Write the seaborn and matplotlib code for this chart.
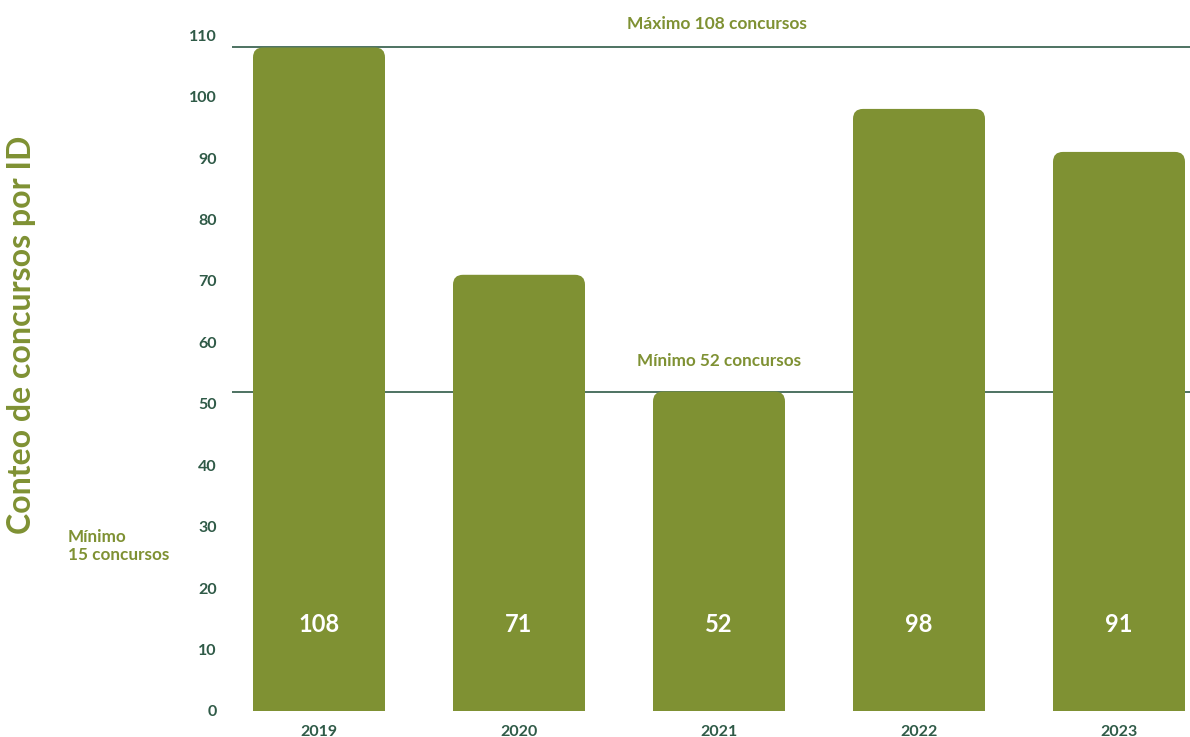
import pandas as pd
import seaborn as sns
import matplotlib.pyplot as plt
from matplotlib.patches import FancyBboxPatch

years = ["2019", "2020", "2021", "2022", "2023"]
counts = [108, 71, 52, 98, 91]
max_count = 108
min_count = 52
y_ticks = [0, 10, 20, 30, 40, 50, 60, 70, 80, 90, 100, 110]

olive = "#7f9133"
dark = "#2f5a47"

sns.set_style("white")
plt.rcParams["font.family"] = ["Lato", "DejaVu Sans"]

df = pd.DataFrame({"Año": years, "Conteo": counts})

fig = plt.figure(figsize=(11.9, 7.37), dpi=100)
ax = fig.add_axes([232 / 1190, 26 / 737, (1190 - 232) / 1190, (711 - 10) / 737])
sns.barplot(data=df, x="Año", y="Conteo", color=olive, width=0.66, saturation=1, ax=ax)

# redondear las esquinas superiores de las barras
y_px = 6.145
for p in list(ax.patches):
    x0, w, h = p.get_x(), p.get_width(), p.get_height()
    r = 0.05
    fb = FancyBboxPatch((x0, -3), w, h + 3, boxstyle=f"round,pad=0,rounding_size={r}",
                        mutation_aspect=(10 / y_px) / r, facecolor=olive, edgecolor="none",
                        clip_on=True, zorder=2)
    p.remove()
    ax.add_patch(fb)

for i, v in enumerate(counts):
    ax.text(i, 14, str(v), ha="center", va="center", color="white", fontsize=17, fontweight="bold", zorder=3)

ax.axhline(max_count, color=dark, lw=1.2, zorder=1)
ax.axhline(min_count, color=dark, lw=1.2, zorder=1)
ax.annotate(f"Máximo {max_count} concursos", xy=(1.99, max_count), xytext=(0, 17), textcoords="offset points",
            ha="center", va="center", color=olive, fontsize=12.5, fontweight="bold")
ax.annotate(f"Mínimo {min_count} concursos", xy=(2.0, min_count), xytext=(0, 22), textcoords="offset points",
            ha="center", va="center", color=olive, fontsize=12.3, fontweight="bold")
fig.text(68 / 1190, 1 - 546 / 737, "Mínimo\n15 concursos", ha="left", va="center", color=olive,
         fontsize=12.3, fontweight="bold", linespacing=1.15)

ax.set_xlim(-0.435, 4.355)
ax.set_ylim(0, 114.1)
ax.set_yticks(y_ticks)
ax.tick_params(axis="both", length=0, colors=dark, labelsize=11.5)
ax.tick_params(axis="y", pad=11)
ax.tick_params(axis="x", pad=10)
for lbl in ax.get_xticklabels() + ax.get_yticklabels():
    lbl.set_fontweight("bold")
ax.set_xlabel("")
ax.set_ylabel("")
sns.despine(left=True, bottom=True)
fig.text(22 / 1190, 1 - 335 / 737, "Conteo de concursos por ID", rotation=90, ha="center", va="center",
         color=olive, fontsize=23, fontweight="bold")

plt.savefig("out.png", dpi=100)
